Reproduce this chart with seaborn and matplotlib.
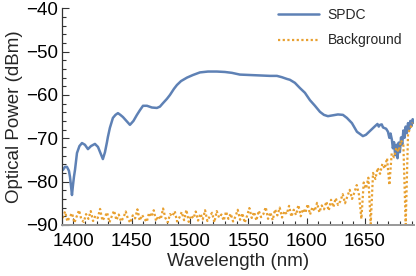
import numpy as np
import pandas as pd
import matplotlib
matplotlib.use("Agg")
import matplotlib.pyplot as plt
import seaborn as sns
from matplotlib.ticker import MultipleLocator

# SPDC spectrum (wavelength in nm, power in dBm)
spdc_wl = [1391.2, 1392.9, 1394.6, 1396.3, 1397.2, 1398.0, 1398.9, 1399.7, 1400.6, 1401.5,
           1403.2, 1405.3, 1407.5, 1410.0, 1412.6, 1415.2, 1418.6, 1421.2, 1423.3, 1425.4,
           1427.2, 1428.9, 1429.7, 1431.4, 1434.0, 1436.2, 1438.3, 1440.4, 1442.6, 1445.6,
           1448.6, 1451.6, 1454.6, 1457.2, 1459.8, 1463.2, 1467.4, 1471.7, 1474.3, 1476.9,
           1480.3, 1482.9, 1486.3, 1488.9, 1492.4, 1497.5, 1502.6, 1508.6, 1515.5, 1523.1,
           1530.0, 1536.0, 1542.8, 1551.4, 1560.0, 1568.6, 1574.6, 1578.8, 1583.1, 1585.7,
           1590.0, 1594.3, 1598.6, 1602.9, 1607.2, 1611.5, 1614.9, 1618.3, 1622.6, 1626.9,
           1631.2, 1634.6, 1638.9, 1643.2, 1645.8, 1648.3, 1650.9, 1654.4, 1658.7, 1660.8,
           1661.9, 1663.0, 1664.5, 1665.5, 1666.4, 1668.2, 1669.8, 1671.0, 1672.0, 1673.2,
           1674.0, 1675.0, 1676.0, 1677.0, 1678.0, 1679.0, 1680.0, 1681.0, 1682.0, 1683.0,
           1684.0, 1685.0, 1686.0, 1687.0, 1688.0, 1689.0, 1690.0, 1691.0, 1692.0]
spdc_pow = [-77.3, -76.6, -76.6, -77.5, -78.9, -80.8, -83.1, -81.0, -78.9, -77.3,
            -73.4, -71.8, -71.1, -71.5, -72.5, -71.8, -71.3, -72.0, -73.4, -74.8,
            -73.2, -70.9, -69.7, -67.6, -65.3, -64.6, -64.2, -64.6, -65.1, -66.0,
            -66.9, -66.0, -64.6, -63.5, -62.5, -62.5, -62.9, -63.0, -62.7, -61.9,
            -60.9, -60.0, -58.6, -57.7, -56.8, -56.0, -55.4, -54.8, -54.6, -54.6,
            -54.7, -54.9, -55.3, -55.4, -55.5, -55.6, -55.6, -55.9, -56.3, -56.5,
            -57.2, -58.4, -59.5, -61.2, -62.5, -63.9, -64.6, -64.9, -64.7, -64.5,
            -64.6, -65.3, -66.5, -68.5, -69.0, -69.5, -69.2, -68.3, -67.2, -66.7,
            -67.3, -66.9, -66.8, -67.5, -67.6, -67.8, -68.5, -69.9, -68.9, -70.4,
            -72.3, -70.9, -73.9, -71.5, -74.6, -71.0, -73.2, -69.8, -71.4, -68.2,
            -69.9, -67.3, -68.8, -66.5, -67.9, -66.0, -67.2, -65.6, -66.4]

# Background spectrum (pump off), 2 nm sampling
bg_wl = [1391, 1393, 1395, 1397, 1399, 1401, 1403, 1405, 1407, 1409,
         1411, 1413, 1415, 1417, 1419, 1421, 1423, 1425, 1427, 1429,
         1431, 1433, 1435, 1437, 1439, 1441, 1443, 1445, 1447, 1449,
         1451, 1453, 1455, 1457, 1459, 1461, 1463, 1465, 1467, 1469,
         1471, 1473, 1475, 1477, 1479, 1481, 1483, 1485, 1487, 1489,
         1491, 1493, 1495, 1497, 1499, 1501, 1503, 1505, 1507, 1509,
         1511, 1513, 1515, 1517, 1519, 1521, 1523, 1525, 1527, 1529,
         1531, 1533, 1535, 1537, 1539, 1541, 1543, 1545, 1547, 1549,
         1551, 1553, 1555, 1557, 1559, 1561, 1563, 1565, 1567, 1569,
         1571, 1573, 1575, 1577, 1579, 1581, 1583, 1585, 1587, 1589,
         1591, 1593, 1595, 1597, 1599, 1601, 1603, 1605, 1607, 1609,
         1611, 1613, 1615, 1617, 1619, 1621, 1623, 1625, 1627, 1629,
         1631, 1633, 1635, 1637, 1639, 1641, 1643, 1645, 1647, 1649,
         1651, 1653, 1655, 1657, 1659, 1661, 1663, 1665, 1667, 1669,
         1671, 1673, 1675, 1677, 1679, 1681, 1683, 1685, 1687, 1689,
         1691]
bg_pow = [-88.4, -86.9, -89.2, -88.1, -87.3, -89.5, -88.0, -86.6, -88.8, -89.3,
          -87.5, -88.6, -86.8, -89.1, -87.9, -88.4, -86.3, -89.0, -88.2, -87.1,
          -89.4, -88.0, -86.7, -88.9, -87.6, -89.2, -88.3, -86.9, -88.7, -89.5,
          -87.8, -88.5, -86.4, -89.0, -87.7, -88.6, -89.3, -87.2, -88.1, -86.6,
          -89.1, -87.9, -88.7, -86.2, -88.4, -89.4, -87.5, -88.0, -86.8, -89.2,
          -88.3, -87.0, -88.9, -86.5, -89.3, -87.8, -88.5, -86.9, -89.0, -87.4,
          -88.7, -86.6, -89.1, -88.0, -87.2, -89.4, -86.8, -88.3, -87.6, -89.0,
          -86.9, -88.6, -87.4, -89.2, -88.1, -86.5, -88.8, -87.3, -89.5, -87.9,
          -86.1, -88.4, -87.0, -89.0, -86.7, -88.2, -87.5, -85.9, -88.6, -87.1,
          -88.9, -86.4, -87.8, -86.0, -88.3, -86.8, -87.5, -85.6, -88.1, -86.5,
          -87.7, -85.4, -88.0, -86.3, -87.2, -85.2, -87.6, -85.9, -86.8, -84.9,
          -87.1, -85.5, -86.4, -84.6, -86.7, -84.2, -85.9, -83.8, -85.4, -84.5,
          -82.9, -85.0, -83.4, -81.9, -84.0, -82.5, -80.8, -83.1, -88.6, -80.2,
          -81.6, -79.1, -89.8, -78.0, -79.4, -76.8, -78.2, -75.9, -77.0, -74.6,
          -80.8, -73.5, -74.4, -72.2, -73.1, -70.5, -71.6, -89.9, -68.9, -67.6,
          -66.4]

df_spdc = pd.DataFrame({"wl": spdc_wl, "p": spdc_pow})
df_bg = pd.DataFrame({"wl": bg_wl, "p": bg_pow})

sns.set_style("ticks")
plt.rcParams["font.family"] = ["Liberation Sans", "DejaVu Sans"]

fig = plt.figure(figsize=(4.16, 2.76), dpi=100)
ax = fig.add_axes([0.150, 0.185, 0.846, 0.785])

# SPDC first (legend order), background drawn on top like in the original
sns.lineplot(data=df_spdc, x="wl", y="p", ax=ax, color="#5E81B5",
             linewidth=1.8, estimator=None, sort=False, label="SPDC")
sns.lineplot(data=df_bg, x="wl", y="p", ax=ax, color="#E8A030",
             linestyle=(0, (1.0, 1.1)), linewidth=1.6, estimator=None, sort=False,
             label="Background")

ax.set_xlim(1390.7, 1692.4)
ax.set_ylim(-90, -40)
ax.xaxis.set_major_locator(MultipleLocator(50))
ax.xaxis.set_minor_locator(MultipleLocator(10))
ax.yaxis.set_major_locator(MultipleLocator(10))
ax.yaxis.set_minor_locator(MultipleLocator(2))
ax.tick_params(which="both", direction="in", colors="#333333", labelcolor="black",
               labelsize=13.5, width=0.8)
ax.tick_params(which="major", length=5)
ax.tick_params(which="minor", length=3)
ax.tick_params(axis="x", pad=6)
ax.tick_params(axis="y", pad=3)

sns.despine(ax=ax)
ax.spines["left"].set_color("#333333")
ax.spines["left"].set_linewidth(0.9)
ax.spines["bottom"].set_color("#999999")
ax.spines["bottom"].set_linewidth(1.4)

ax.set_xlabel("Wavelength (nm)", fontsize=13.5, labelpad=2)
ax.set_ylabel("Optical Power (dBm)", fontsize=13.5, labelpad=2)

ax.legend(loc="upper left", bbox_to_anchor=(0.612, 1.0),
          frameon=False, fontsize=10, handlelength=3.0, handletextpad=0.6,
          labelspacing=0.8, borderpad=0, borderaxespad=0)

fig.savefig("out.png", dpi=100)
